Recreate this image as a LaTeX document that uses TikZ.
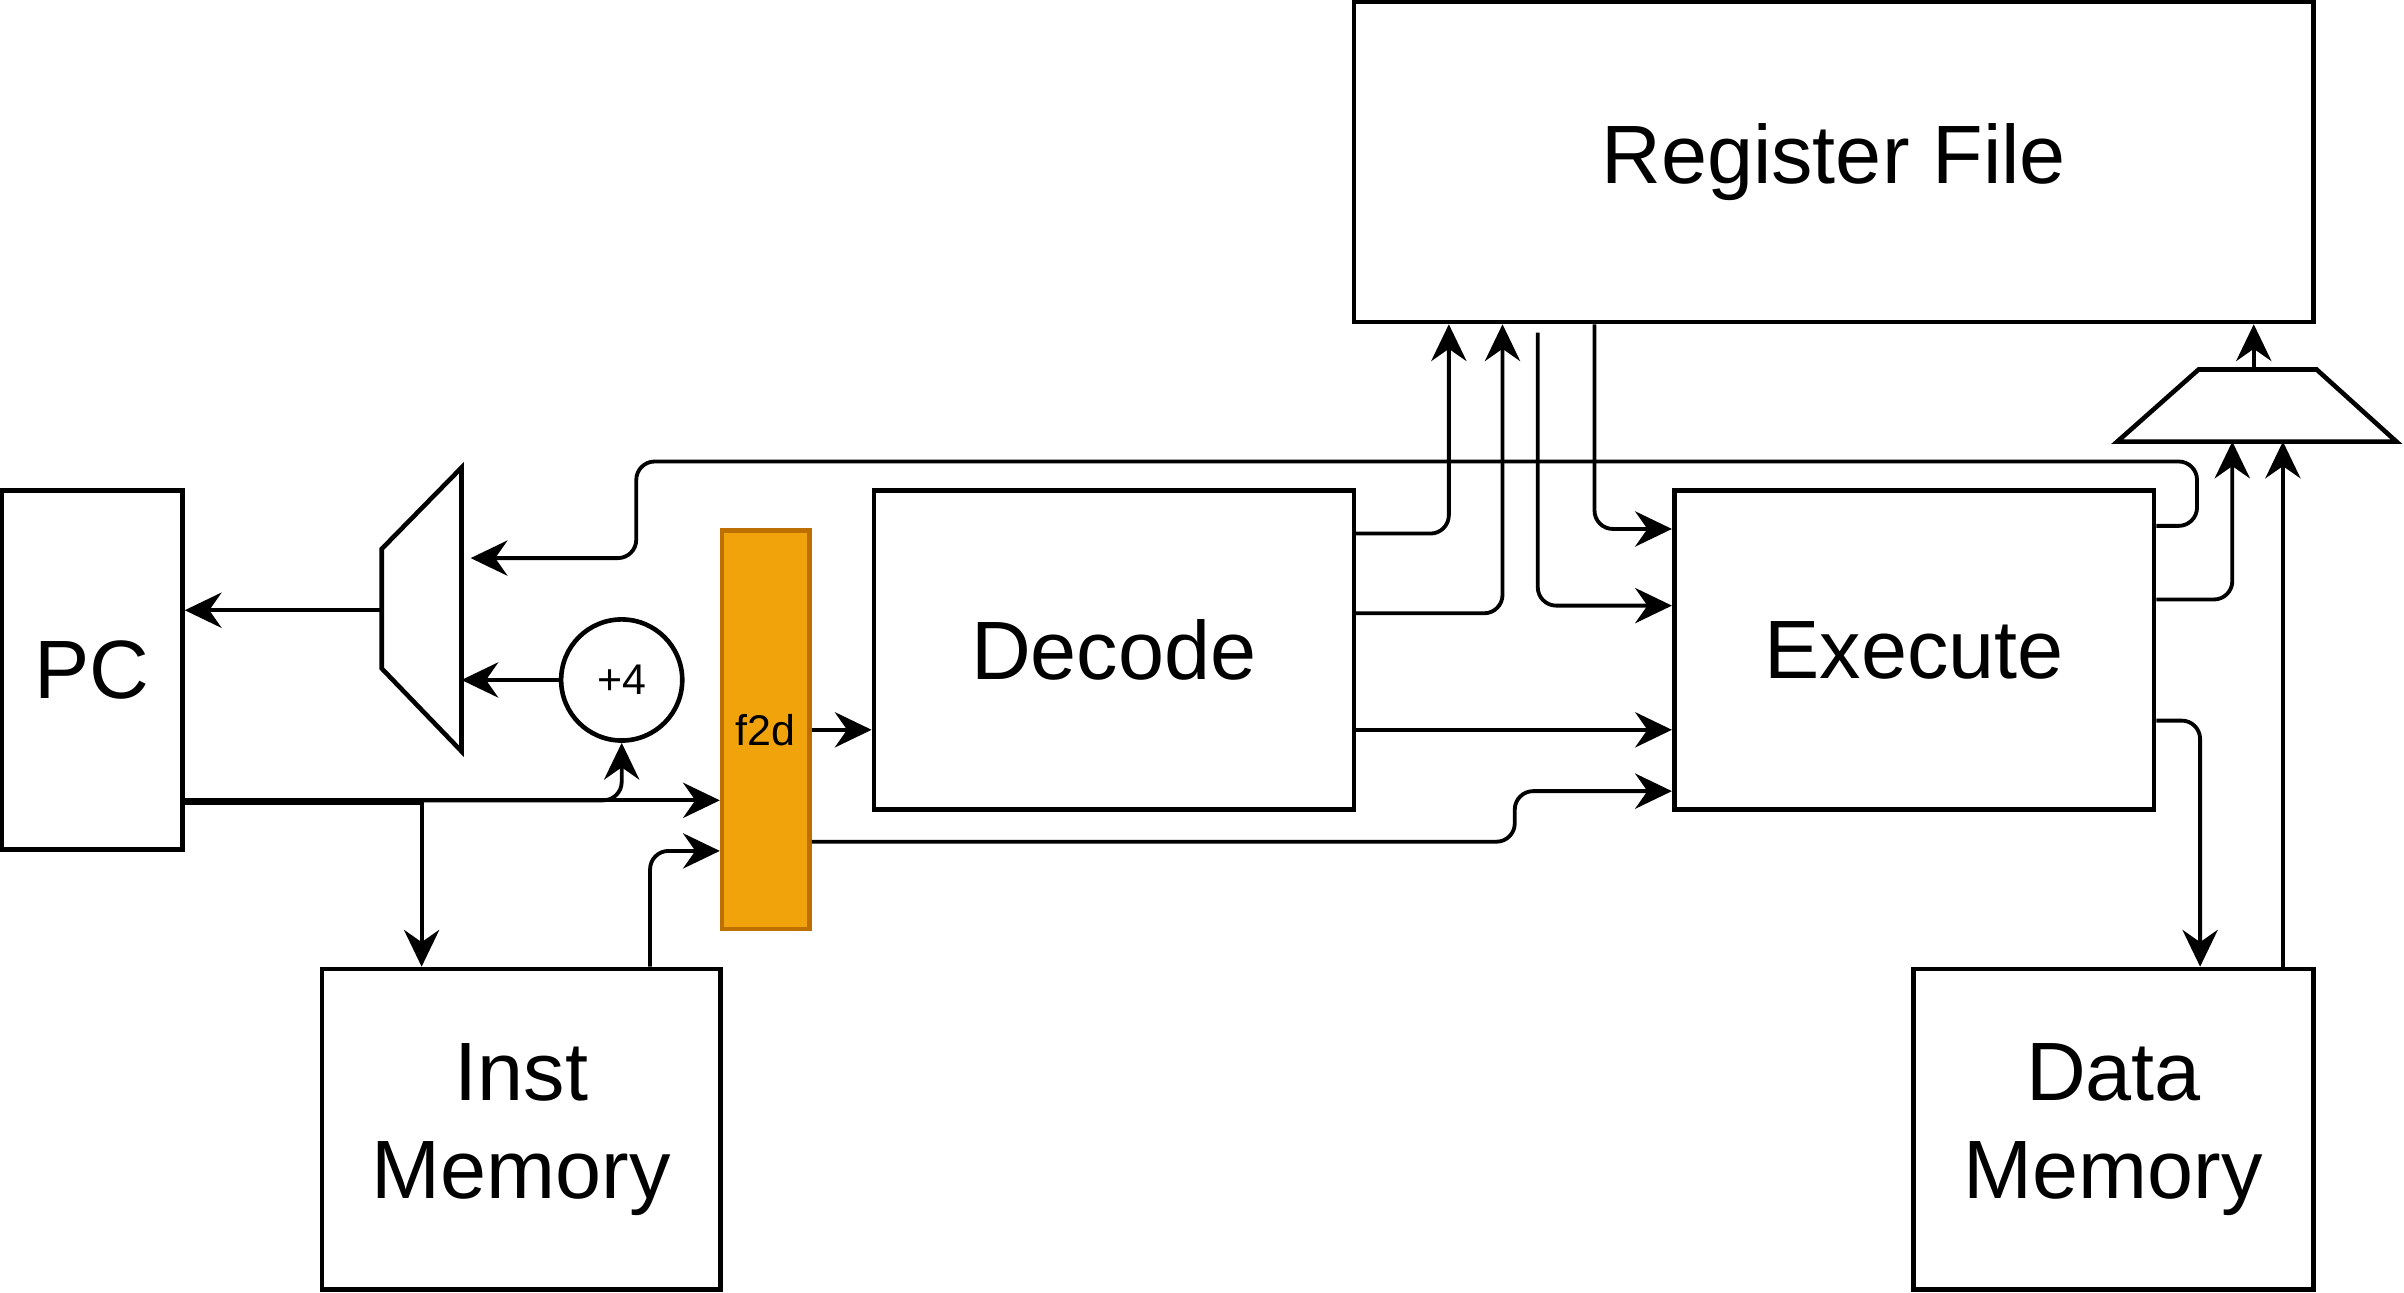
\documentclass[tikz,border=0pt]{standalone}
\usepackage{fontspec}
\setmainfont{Liberation Sans}
\usetikzlibrary{arrows.meta}
\definecolor{regfill}{HTML}{F0A30A}
\definecolor{regline}{HTML}{BD7000}

\begin{document}
\begin{tikzpicture}[x=0.5pt,y=-0.5pt,
  block/.style={draw,line width=1.5pt,inner sep=0pt,align=center,font=\fontsize{27}{32}\selectfont},
  small/.style={font=\fontsize{14}{17}\selectfont},
  wire/.style={line width=1.25pt,rounded corners=6pt},
  arr/.style={wire,-{Stealth[length=12pt,width=11.5pt,inset=4pt]}}]
  \useasboundingbox (0,0) rectangle (1568,843);

  % stages
  \node[block,minimum width=59pt,minimum height=117pt] (PC) at (60,437) {PC};
  \node[block,minimum width=156.5pt,minimum height=104pt] (Decode) at (726.5,424) {Decode};
  \node[block,minimum width=156.5pt,minimum height=104pt] (Execute) at (1248.5,424) {Execute};
  \node[block,minimum width=313pt,minimum height=104.5pt] (RegFile) at (1196,105.5) {Register File};
  \node[block,minimum width=130pt,minimum height=104.5pt] (InstMem) at (340,736.5) {Inst\\Memory};
  \node[block,minimum width=130.5pt,minimum height=104.5pt] (DataMem) at (1378.5,736.5) {Data\\Memory};
  \node[draw=regline,fill=regfill,line width=1.5pt,minimum width=28.5pt,
    minimum height=130pt,inner sep=0pt,small] (f2d) at (499.5,476) {f2d};
  \node[draw,circle,line width=1.5pt,minimum size=39.5pt,inner sep=0pt,small] (plus4) at (405.5,443.5) {+4};

  % muxes
  \coordinate (muxA1) at (249,358);
  \coordinate (muxA2) at (301,305);
  \coordinate (muxA3) at (301,490);
  \coordinate (muxA4) at (249,436);
  \draw[line width=1.5pt] (muxA1) -- (muxA2) -- (muxA3) -- (muxA4) -- cycle;
  \coordinate (muxB1) at (1381,288);
  \coordinate (muxB2) at (1434,241);
  \coordinate (muxB3) at (1511,241);
  \coordinate (muxB4) at (1563,288);
  \draw[line width=1.5pt] (muxB1) -- (muxB2) -- (muxB3) -- (muxB4) -- cycle;

  % fetch
  \draw[arr] (muxA1 |- 0,398) -- (PC.east |- 0,398);
  \draw[arr] (plus4.west) -- (muxA2 |- plus4.west);
  \draw[arr] (PC.east |- 0,522) -- (f2d.west |- 0,522);
  \draw[arr] (PC.east |- 0,522) -| (plus4.south);
  \draw[arr,sharp corners] (PC.east |- 0,524) -| (InstMem.north -| 275,0);
  \draw[arr] (InstMem.north -| 424,0) |- (f2d.west |- 0,555);
  \draw[arr] (Execute.east |- 0,343) -- (1433,343) -- (1433,301) -- (415,301)
    -- (415,364) -- ([xshift=3pt]muxA2 |- 0,364);

  % decode
  \draw[arr] (f2d.east) -- (Decode.west |- f2d.east);
  \draw[arr] (f2d.east |- 0,549) -- (988,549) -- (988,516) -- (Execute.west |- 0,516);
  \draw[arr] (Decode.east |- 0,476) -- (Execute.west |- 0,476);
  \draw[arr] (Decode.east |- 0,348) -| (RegFile.south -| 945,0);
  \draw[arr] (Decode.east |- 0,400) -| (RegFile.south -| 980,0);

  % execute
  \coordinate (rfTap) at (1003,217);
  \draw[arr] (rfTap) |- (Execute.west |- 0,395);
  \draw[arr] (RegFile.south -| 1040,0) |- (Execute.west |- 0,345);
  \draw[arr] (Execute.east |- 0,391) -| (muxB1 -| 1456,0);
  \draw[arr] (Execute.east |- 0,470) -| (DataMem.north -| 1435,0);
  \draw[arr] (DataMem.north -| 1489,0) -- (muxB1 -| 1489,0);
  \draw[arr] (muxB2 -| 1470,0) -- (RegFile.south -| 1470,0);
\end{tikzpicture}
\end{document}
